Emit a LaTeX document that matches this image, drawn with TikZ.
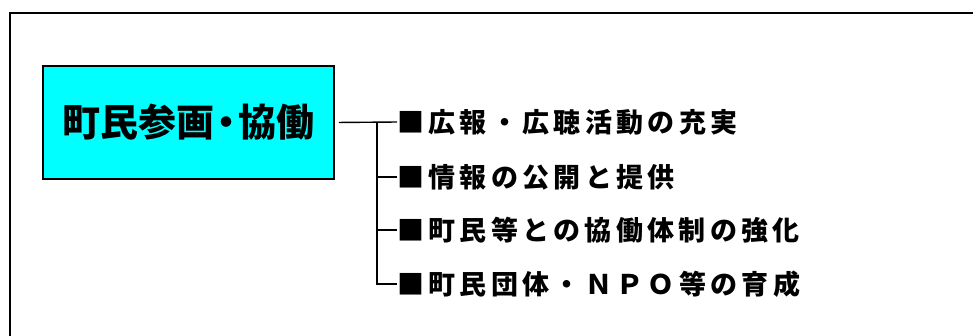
\documentclass[tikz,border=0pt]{standalone}
\usepackage{fontspec}
\setmainfont{Noto Sans CJK JP}
\newfontfamily\itemfont{Noto Sans CJK JP}[LetterSpace=16]
\definecolor{boxcyan}{HTML}{00FFFF}
\begin{document}
\begin{tikzpicture}[x=1pt,y=-1pt,
  titlebox/.style={draw=black,line width=1.5pt,fill=boxcyan,minimum width=291pt,minimum height=113pt,inner sep=0pt,font=\fontsize{38}{42}\selectfont\bfseries},
  itemtext/.style={anchor=west,inner sep=0pt,font=\fontsize{27}{30}\selectfont\itemfont\bfseries},
  conn/.style={line width=1.4pt,black}]
\useasboundingbox (0,0) rectangle (973,335);
\draw[line width=2pt] (10,336) -- (10,13) -- (974,13);
\node[titlebox] (title) at (188.5,122.5) {町民参画\kern-7pt・\kern-7pt 協働};
\node[itemtext] (i1) at (397,122) {■広報・広聴活動の充実};
\node[itemtext] (i2) at (397,177) {■情報の公開と提供};
\node[itemtext] (i3) at (397,230) {■町民等との協働体制の強化};
\node[itemtext] (i4) at (397,284) {■町民団体・ＮＰＯ等の育成};
\coordinate (j) at (377,122);
\draw[conn,shorten <=4pt] (title.east) -- (i1.west);
\draw[conn] (j) |- (i2.west);
\draw[conn] (j) |- (i3.west);
\draw[conn] (j) |- (i4.west);
\end{tikzpicture}
\end{document}
